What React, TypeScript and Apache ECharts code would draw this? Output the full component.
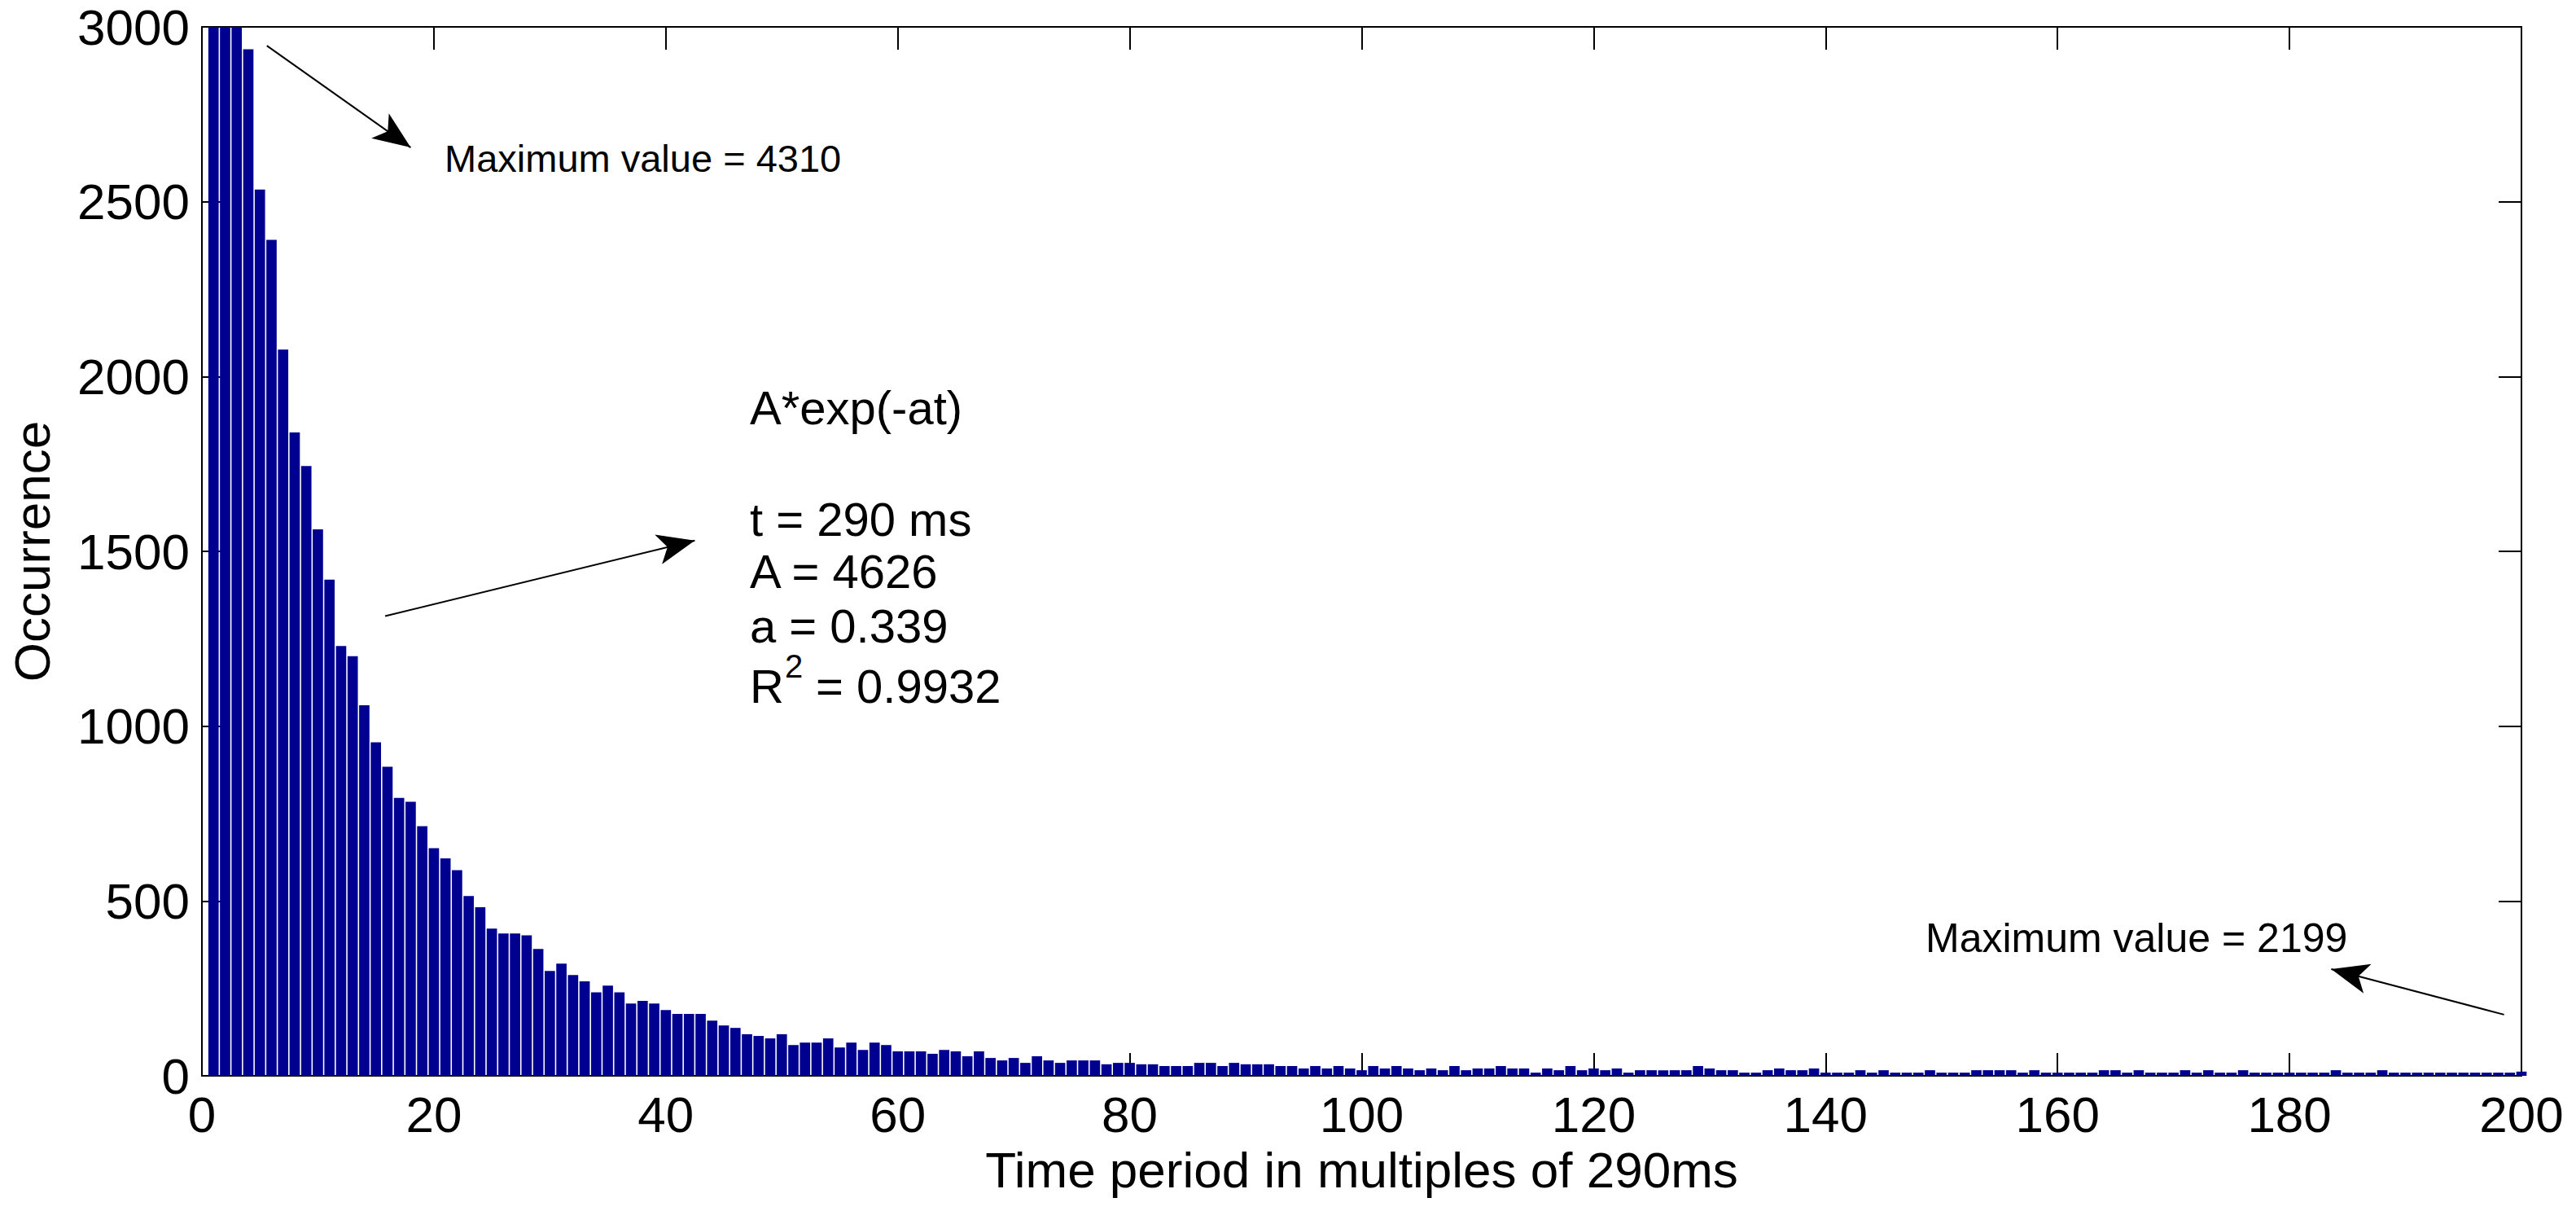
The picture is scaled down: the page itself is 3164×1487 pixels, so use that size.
import React, { useEffect, useRef } from "react";
import * as echarts from "echarts";

const FONT = "'Liberation Sans', Arial, Helvetica, sans-serif";

// Bin index (multiples of 290 ms)
const bins: number[] = [
  1, 2, 3, 4, 5, 6, 7, 8, 9, 10, 11, 12, 13, 14, 15, 16, 17, 18, 19, 20,
  21, 22, 23, 24, 25, 26, 27, 28, 29, 30, 31, 32, 33, 34, 35, 36, 37, 38, 39, 40,
  41, 42, 43, 44, 45, 46, 47, 48, 49, 50, 51, 52, 53, 54, 55, 56, 57, 58, 59, 60,
  61, 62, 63, 64, 65, 66, 67, 68, 69, 70, 71, 72, 73, 74, 75, 76, 77, 78, 79, 80,
  81, 82, 83, 84, 85, 86, 87, 88, 89, 90, 91, 92, 93, 94, 95, 96, 97, 98, 99, 100,
  101, 102, 103, 104, 105, 106, 107, 108, 109, 110, 111, 112, 113, 114, 115, 116, 117, 118, 119, 120,
  121, 122, 123, 124, 125, 126, 127, 128, 129, 130, 131, 132, 133, 134, 135, 136, 137, 138, 139, 140,
  141, 142, 143, 144, 145, 146, 147, 148, 149, 150, 151, 152, 153, 154, 155, 156, 157, 158, 159, 160,
  161, 162, 163, 164, 165, 166, 167, 168, 169, 170, 171, 172, 173, 174, 175, 176, 177, 178, 179, 180,
  181, 182, 183, 184, 185, 186, 187, 188, 189, 190, 191, 192, 193, 194, 195, 196, 197, 198, 199, 200,
];

// Occurrence per bin
const occurrence: number[] = [
  4310, 3700, 3250, 2936, 2535, 2391, 2077, 1840, 1744, 1563,
  1419, 1229, 1200, 1060, 954, 884, 795, 784, 714, 651,
  622, 588, 514, 482, 421, 407, 407, 402, 363, 300,
  321, 288, 270, 239, 258, 239, 207, 214, 207, 188,
  177, 177, 177, 158, 144, 137, 119, 114, 107, 119,
  88, 95, 95, 107, 81, 95, 74, 95, 88, 70,
  70, 70, 63, 74, 70, 56, 70, 51, 44, 51,
  37, 56, 44, 37, 44, 44, 44, 33, 37, 37,
  33, 33, 28, 28, 28, 37, 37, 28, 37, 33,
  33, 33, 28, 28, 21, 28, 21, 28, 21, 16,
  28, 21, 28, 21, 16, 21, 16, 28, 16, 21,
  21, 28, 21, 21, 9, 21, 16, 28, 16, 21,
  16, 21, 9, 16, 16, 16, 16, 16, 28, 21,
  16, 16, 9, 9, 16, 21, 16, 16, 21, 9,
  9, 9, 16, 9, 16, 9, 9, 9, 16, 9,
  9, 9, 16, 16, 16, 16, 9, 16, 9, 9,
  9, 9, 9, 16, 16, 9, 16, 9, 9, 9,
  16, 9, 16, 9, 9, 16, 9, 9, 9, 9,
  9, 9, 9, 16, 9, 9, 9, 16, 9, 9,
  9, 9, 9, 9, 9, 9, 9, 9, 9, 12,
];

const xTicks: number[] = [0, 20, 40, 60, 80, 100, 120, 140, 160, 180, 200];
const yTicks: number[] = [0, 500, 1000, 1500, 2000, 2500, 3000];

const xTitle = "Time period in multiples of 290ms";
const yTitle = "Occurrence";

const fitLines: string[] = ["A*exp(-at)", "t = 290 ms", "A = 4626", "a = 0.339"];

export default function App() {
  const ref = useRef<HTMLDivElement>(null);

  useEffect(() => {
    if (!ref.current) return;
    const chart = echarts.init(ref.current, undefined, { renderer: "svg" });

    const axisLine = { show: true, onZero: false, lineStyle: { color: "#000", width: 2 } };
    const tick = { show: true, inside: true, length: 28, lineStyle: { color: "#000", width: 2 } };

    const textEl = (text: string, x: number, y: number, size: number) => ({
      type: "text",
      x,
      y,
      silent: true,
      style: {
        text,
        fill: "#000",
        fontSize: size,
        fontFamily: FONT,
        align: "left",
        verticalAlign: "middle",
        textAlign: "left",
        textVerticalAlign: "middle",
      },
    });

    const plain = (v: number) => String(v);

    const option: any = {
      animation: false,
      backgroundColor: "#ffffff",
      textStyle: { fontFamily: FONT },
      grid: { left: 244, right: 67, top: 33, bottom: 166, containLabel: false },
      xAxis: [
        {
          type: "value",
          position: "bottom",
          min: xTicks[0],
          max: xTicks[xTicks.length - 1],
          interval: xTicks[1] - xTicks[0],
          name: xTitle,
          nameLocation: "middle",
          nameGap: 84,
          nameTextStyle: { fontSize: 62, color: "#000", fontFamily: FONT },
          axisLine,
          axisTick: tick,
          axisLabel: { fontSize: 62, color: "#000", margin: 16, fontFamily: FONT, formatter: plain },
          splitLine: { show: false },
        },
        {
          type: "value",
          position: "top",
          min: xTicks[0],
          max: xTicks[xTicks.length - 1],
          interval: xTicks[1] - xTicks[0],
          axisLine,
          axisTick: tick,
          axisLabel: { show: false },
          splitLine: { show: false },
        },
      ],
      yAxis: [
        {
          type: "value",
          position: "left",
          min: yTicks[0],
          max: yTicks[yTicks.length - 1],
          interval: yTicks[1] - yTicks[0],
          name: yTitle,
          nameLocation: "middle",
          nameRotate: 90,
          nameGap: 178,
          nameTextStyle: { fontSize: 62, color: "#000", fontFamily: FONT },
          axisLine,
          axisTick: tick,
          axisLabel: { fontSize: 62, color: "#000", margin: 15, fontFamily: FONT, formatter: plain },
          splitLine: { show: false },
        },
        {
          type: "value",
          position: "right",
          min: yTicks[0],
          max: yTicks[yTicks.length - 1],
          interval: yTicks[1] - yTicks[0],
          axisLine,
          axisTick: tick,
          axisLabel: { show: false },
          splitLine: { show: false },
        },
      ],
      series: [
        {
          type: "bar",
          xAxisIndex: 0,
          yAxisIndex: 0,
          data: bins.map((b, i) => [b, occurrence[i]]),
          barWidth: "89%",
          clip: true,
          itemStyle: { color: "#000090" },
          emphasis: { disabled: true },
          markLine: {
            silent: true,
            symbol: ["none", "arrow"],
            symbolSize: [28, 46],
            label: { show: false },
            emphasis: { disabled: true },
            lineStyle: { color: "#000", width: 2, type: "solid" },
            data: [
              [{ coord: [5.6, 2946] }, { coord: [18.0, 2655] }],
              [{ coord: [15.8, 1315] }, { coord: [42.5, 1531] }],
              [{ coord: [198.5, 175] }, { coord: [183.6, 305] }],
            ],
          },
        },
      ],
      graphic: [
        textEl("Maximum value = 4310", 546, 194, 47),
        textEl("Maximum value = 2199", 2365, 1152, 50),
        textEl(fitLines[0], 921, 500, 58),
        textEl(fitLines[1], 921, 637, 58),
        textEl(fitLines[2], 921, 701, 58),
        textEl(fitLines[3], 921, 768, 58),
        textEl("R", 921, 842, 58),
        textEl("2", 964, 818, 40),
        textEl(" = 0.9932", 986, 842, 58),
      ],
    };

    chart.setOption(option);
    return () => chart.dispose();
  }, []);

  return (
    <div
      ref={ref}
      style={{ position: "fixed", left: 0, top: 0, width: 3164, height: 1487, background: "#fff" }}
    />
  );
}
